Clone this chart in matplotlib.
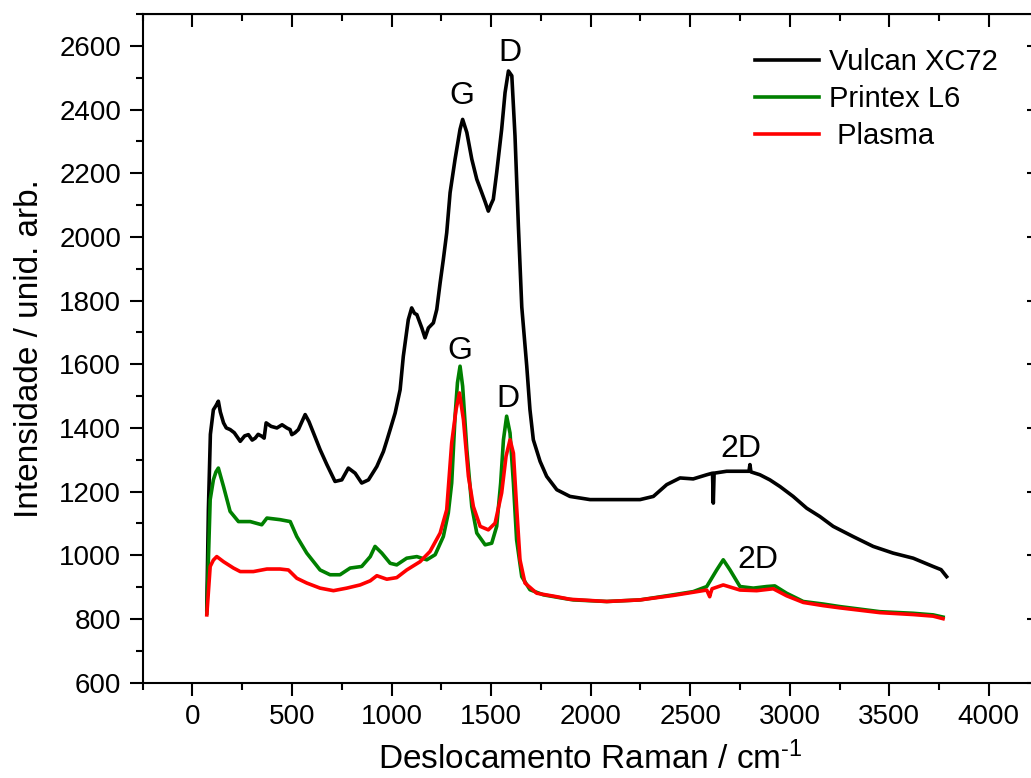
import matplotlib; matplotlib.use('Agg')
import matplotlib.pyplot as plt
from matplotlib.ticker import MultipleLocator

plt.rcParams['font.family'] = ['Liberation Sans', 'DejaVu Sans']
plt.rcParams['mathtext.fontset'] = 'custom'
plt.rcParams['mathtext.rm'] = 'Liberation Sans'
plt.rcParams['mathtext.it'] = 'Liberation Sans'

# --- spectra (Raman shift cm-1, intensity a.u.) ---
vulcan_x = [72, 80, 90, 105, 118, 130, 140, 156, 170, 189, 210, 240, 262, 281, 300, 315, 330, 348, 360, 370,
            395, 424, 450, 474, 490, 499, 515, 532, 550, 566, 585, 608, 641, 675, 716, 750, 783, 817, 850, 884,
            926, 959, 976, 993, 1018, 1043, 1059, 1084, 1101, 1115, 1127, 1152, 1168, 1185, 1210, 1227, 1244,
            1260, 1277, 1294, 1319, 1344, 1357, 1378, 1403, 1428, 1453, 1470, 1486, 1498, 1511, 1528, 1553,
            1570, 1587, 1604, 1620, 1637, 1654, 1679, 1695, 1712, 1746, 1779, 1830, 1896, 1997, 2081, 2164,
            2248, 2315, 2382, 2449, 2515, 2583, 2612, 2616, 2620, 2683, 2750, 2795, 2800, 2805, 2850, 2900,
            2951, 3017, 3085, 3151, 3218, 3318, 3419, 3519, 3620, 3720, 3760, 3788]
vulcan_y = [830, 1143, 1380, 1457, 1470, 1484, 1450, 1416, 1400, 1395, 1385, 1358, 1375, 1379, 1362, 1368,
            1380, 1374, 1368, 1416, 1405, 1400, 1410, 1400, 1395, 1379, 1385, 1395, 1420, 1442, 1420, 1384,
            1332, 1285, 1232, 1237, 1274, 1258, 1227, 1237, 1279, 1326, 1360, 1395, 1447, 1520, 1625, 1740,
            1777, 1760, 1756, 1714, 1683, 1714, 1730, 1772, 1856, 1929, 2013, 2139, 2244, 2338, 2369, 2328,
            2244, 2181, 2139, 2110, 2081, 2100, 2118, 2202, 2338, 2453, 2521, 2506, 2317, 2034, 1780, 1594,
            1458, 1363, 1295, 1248, 1206, 1185, 1175, 1175, 1175, 1175, 1185, 1222, 1243, 1240, 1253, 1258,
            1164, 1258, 1264, 1264, 1264, 1285, 1262, 1253, 1237, 1216, 1185, 1148, 1122, 1091, 1059, 1028,
            1007, 991, 965, 955, 933]

printex_x = [72, 89, 105, 118, 130, 156, 189, 231, 290, 348, 374, 440, 491, 524, 574, 641, 691, 741, 792,
             850, 893, 917, 951, 993, 1026, 1076, 1127, 1177, 1219, 1260, 1285, 1302, 1319, 1331, 1344, 1357,
             1378, 1403, 1428, 1470, 1503, 1528, 1548, 1562, 1578, 1595, 1612, 1628, 1654, 1695, 1762, 1863,
             1913, 2081, 2248, 2415, 2515, 2583, 2633, 2666, 2700, 2750, 2817, 2884, 2925, 2984, 3068, 3168,
             3252, 3453, 3620, 3720, 3770]
printex_y = [818, 1175, 1237, 1262, 1274, 1216, 1138, 1106, 1106, 1096, 1117, 1112, 1106, 1059, 1007, 954,
             939, 939, 960, 965, 996, 1028, 1007, 975, 970, 991, 996, 986, 1002, 1059, 1133, 1227, 1437, 1542,
             1594, 1531, 1332, 1153, 1070, 1033, 1038, 1091, 1227, 1363, 1437, 1384, 1227, 1049, 933, 892, 876,
             865, 860, 855, 860, 876, 886, 902, 954, 986, 954, 902, 897, 902, 904, 881, 855, 847, 839, 823,
             818, 813, 806]

plasma_x = [72, 89, 105, 122, 156, 206, 240, 306, 374, 440, 482, 524, 574, 641, 708, 775, 842, 893, 926,
            976, 1026, 1076, 1143, 1193, 1244, 1277, 1302, 1324, 1341, 1361, 1386, 1411, 1445, 1486, 1520, 1553,
            1575, 1595, 1612, 1628, 1645, 1670, 1729, 1830, 1896, 2081, 2248, 2415, 2515, 2583, 2598, 2602,
            2610, 2666, 2750, 2834, 2917, 2984, 3068, 3168, 3252, 3453, 3620, 3720, 3770]
plasma_y = [813, 965, 985, 996, 980, 960, 949, 949, 957, 957, 954, 928, 913, 897, 889, 897, 907, 920, 936,
            925, 930, 954, 980, 1012, 1070, 1143, 1353, 1458, 1510, 1426, 1248, 1153, 1091, 1080, 1101, 1196,
            1311, 1363, 1321, 1153, 986, 913, 881, 870, 862, 855, 860, 874, 884, 891, 870, 880, 895, 907, 891,
            889, 895, 873, 852, 842, 835, 820, 814, 809, 801]

peak_labels = ['G', 'D', 'G', 'D', '2D', '2D']
peak_x = [1352, 1595, 1344, 1587, 2755, 2842]
peak_y = [2443, 2576, 1641, 1491, 1334, 986]

fig = plt.figure(figsize=(10.31, 7.78), dpi=100)
ax = fig.add_axes([0.1384, 0.1225, 0.869, 0.8595])

ax.plot(vulcan_x, vulcan_y, color='black', lw=2.6, label='Vulcan XC72')
ax.plot(printex_x, printex_y, color='#008000', lw=2.6, label='Printex L6')
ax.plot(plasma_x, plasma_y, color='#ff0000', lw=2.6, label=' Plasma')

for lab, px, py in zip(peak_labels, peak_x, peak_y):
    ax.text(px, py, lab, fontsize=23, ha='center', va='center')

ax.set_xlim(-250, 4250); ax.set_ylim(600, 2700)
ax.xaxis.set_major_locator(MultipleLocator(500)); ax.xaxis.set_minor_locator(MultipleLocator(250))
ax.yaxis.set_major_locator(MultipleLocator(200)); ax.yaxis.set_minor_locator(MultipleLocator(100))
ax.tick_params(which='both', direction='out', width=1.5, labelsize=20)
ax.tick_params(which='major', length=9.5, pad=6)
ax.tick_params(which='minor', length=5)
for s in ax.spines.values(): s.set_linewidth(1.5)

# top/right ticks point inward (Origin style)
top = ax.secondary_xaxis('top')
top.xaxis.set_major_locator(MultipleLocator(500)); top.xaxis.set_minor_locator(MultipleLocator(250))
top.tick_params(which='both', direction='in', width=1.5, labeltop=False)
top.tick_params(which='major', length=9); top.tick_params(which='minor', length=5)
right = ax.secondary_yaxis('right')
right.yaxis.set_major_locator(MultipleLocator(200)); right.yaxis.set_minor_locator(MultipleLocator(100))
right.tick_params(which='both', direction='in', width=1.5, labelright=False)
right.tick_params(which='major', length=9); right.tick_params(which='minor', length=5)

ax.set_xlabel('Deslocamento Raman / cm$^{\\text{-1}}$', fontsize=24, labelpad=8)
ax.set_ylabel('Intensidade / unid. arb.', fontsize=24, labelpad=10)

ax.legend(loc='upper left', bbox_to_anchor=(0.7323, 0.938), bbox_transform=fig.transFigure,
          frameon=False, fontsize=21, handlelength=2.2, handletextpad=0.35, labelspacing=0.3,
          borderpad=0, borderaxespad=0)

fig.savefig('out.png', dpi=100)
